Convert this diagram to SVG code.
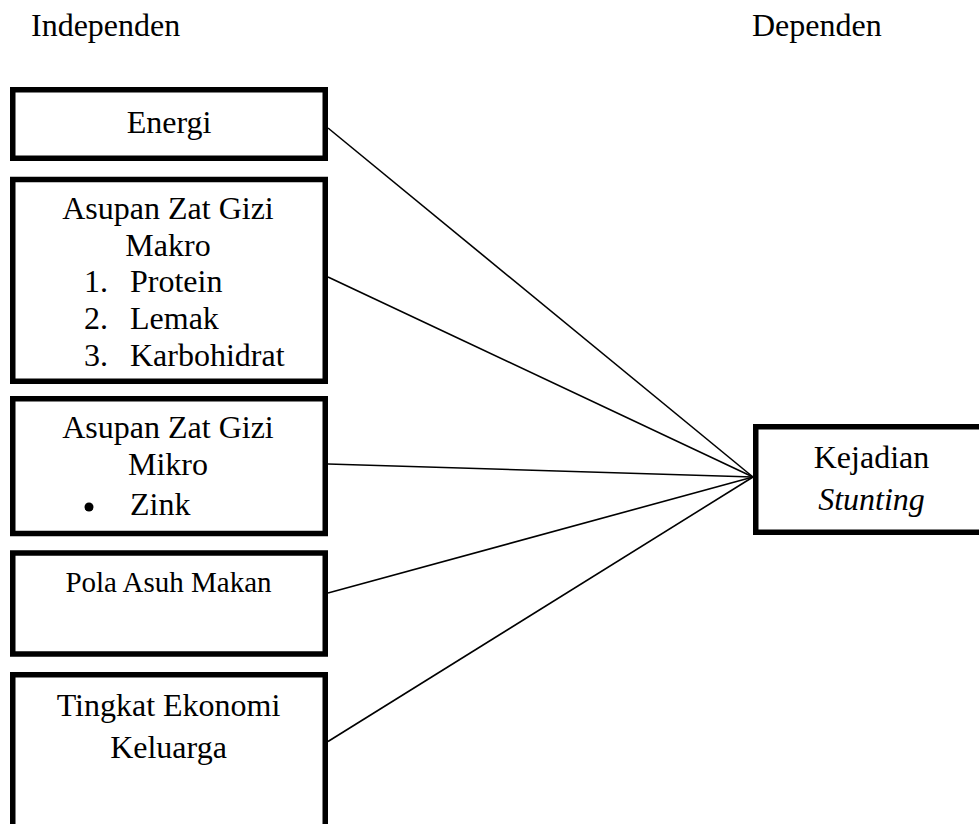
<svg xmlns="http://www.w3.org/2000/svg" width="979" height="824" viewBox="0 0 979 824">
<style>
.box{fill:#fff;stroke:#000;stroke-width:5.5}
.t{font-family:"Liberation Serif","Times New Roman",serif;font-size:32px;fill:#000}
.c{text-anchor:middle}
.conn line{stroke:#000;stroke-width:1.6}
</style>
<rect width="979" height="824" fill="#fff"/>
<text class="t" x="31" y="36">Independen</text>
<text class="t" x="752" y="36">Dependen</text>
<g class="conn" id="connectors">
<line x1="328" y1="128" x2="753" y2="477"/>
<line x1="328" y1="277" x2="753" y2="477"/>
<line x1="328" y1="464" x2="753" y2="477"/>
<line x1="328" y1="593" x2="753" y2="477"/>
<line x1="328" y1="741.5" x2="753" y2="477"/>
</g>
<g id="energi">
<rect class="box" x="12.75" y="89.75" width="312.5" height="68.5"/>
<text class="t c" x="169" y="133">Energi</text>
</g>
<g id="makro">
<rect class="box" x="12.75" y="179.5" width="312.5" height="201.75"/>
<text class="t c" x="168" y="219">Asupan Zat Gizi</text>
<text class="t c" x="168" y="256">Makro</text>
<text class="t" x="84" y="292">1.</text><text class="t" x="130" y="292">Protein</text>
<text class="t" x="84" y="329">2.</text><text class="t" x="130" y="329">Lemak</text>
<text class="t" x="84" y="366">3.</text><text class="t" x="130" y="366">Karbohidrat</text>
</g>
<g id="mikro">
<rect class="box" x="12.75" y="398.75" width="312.5" height="134.75"/>
<text class="t c" x="168" y="438">Asupan Zat Gizi</text>
<text class="t c" x="168" y="475">Mikro</text>
<circle cx="89" cy="507" r="4.5" fill="#000"/>
<text class="t" x="130" y="515">Zink</text>
</g>
<g id="pola">
<rect class="box" x="12.75" y="553" width="312.5" height="101"/>
<text class="t c" x="168.5" y="592" style="font-size:29px">Pola Asuh Makan</text>
</g>
<g id="tingkat">
<rect class="box" x="12.75" y="674.75" width="312.5" height="160"/>
<text class="t c" x="168.5" y="716">Tingkat Ekonomi</text>
<text class="t c" x="168.5" y="758">Keluarga</text>
</g>
<g id="kejadian">
<rect class="box" x="755.75" y="426.75" width="240" height="105.5"/>
<text class="t c" x="871.5" y="468">Kejadian</text>
<text class="t c" x="871.5" y="510" font-style="italic">Stunting</text>
</g>
</svg>
